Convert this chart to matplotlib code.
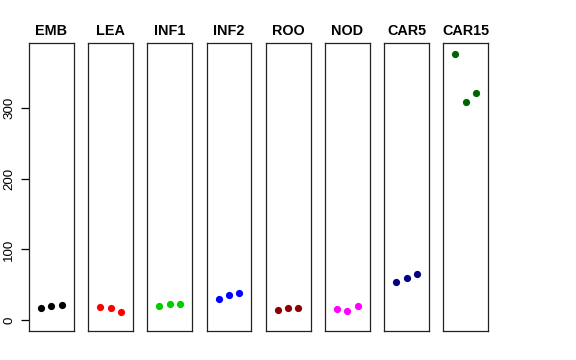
import numpy as np
import matplotlib
matplotlib.use('Agg')
from matplotlib import pyplot as plt

plt.rcParams['font.family'] = ['Liberation Sans', 'DejaVu Sans']

# sample groups and their three replicate values
groups = ['EMB', 'LEA', 'INF1', 'INF2', 'ROO', 'NOD', 'CAR5', 'CAR15']
emb = [17.8, 19.7, 22.0]
lea = [18.8, 16.9, 11.7]
inf1 = [19.7, 23.0, 23.5]
inf2 = [30.6, 36.2, 39.0]
roo = [14.0, 17.8, 17.8]
nod = [16.4, 13.6, 20.2]
car5 = [54.6, 59.3, 64.9]
car15 = [376.0, 308.3, 320.6]
values = [emb, lea, inf1, inf2, roo, nod, car5, car15]
colors = ['black', 'red', '#00CD00', 'blue', '#8B0000', 'magenta', '#000080', '#006400']
yticks = [0, 100, 200, 300]

fig = plt.figure(figsize=(5.76, 3.6), dpi=100)
ymax = max(max(v) for v in values)
pad = 0.04 * ymax

left, width, step = 29/576, 44.7/576, 59.2/576
bottom, height = 1 - 331/360, (331 - 43.3)/360

for i, (g, v, c) in enumerate(zip(groups, values, colors)):
    ax = fig.add_axes([left + i*step, bottom, width, height])
    x = np.arange(1, len(v) + 1)
    ax.plot(x, v, 'o', color=c, markersize=5.2, markeredgewidth=0)
    ax.set_xlim(-0.16, 4.16)
    ax.set_ylim(-pad, ymax + pad)
    ax.set_xticks([])
    for s in ax.spines.values():
        s.set_linewidth(0.9)
        s.set_color('#222222')
    if i == 0:
        ax.set_yticks(yticks)
        ax.set_yticklabels([str(t) for t in yticks], rotation=90, va='center', fontsize=9.6)
        ax.tick_params(axis='y', length=5.8, width=0.9, pad=4)
    else:
        ax.set_yticks([])
    ax.set_title(g, fontsize=10.4, fontweight='bold', pad=6)

fig.savefig('out.png', dpi=100)
